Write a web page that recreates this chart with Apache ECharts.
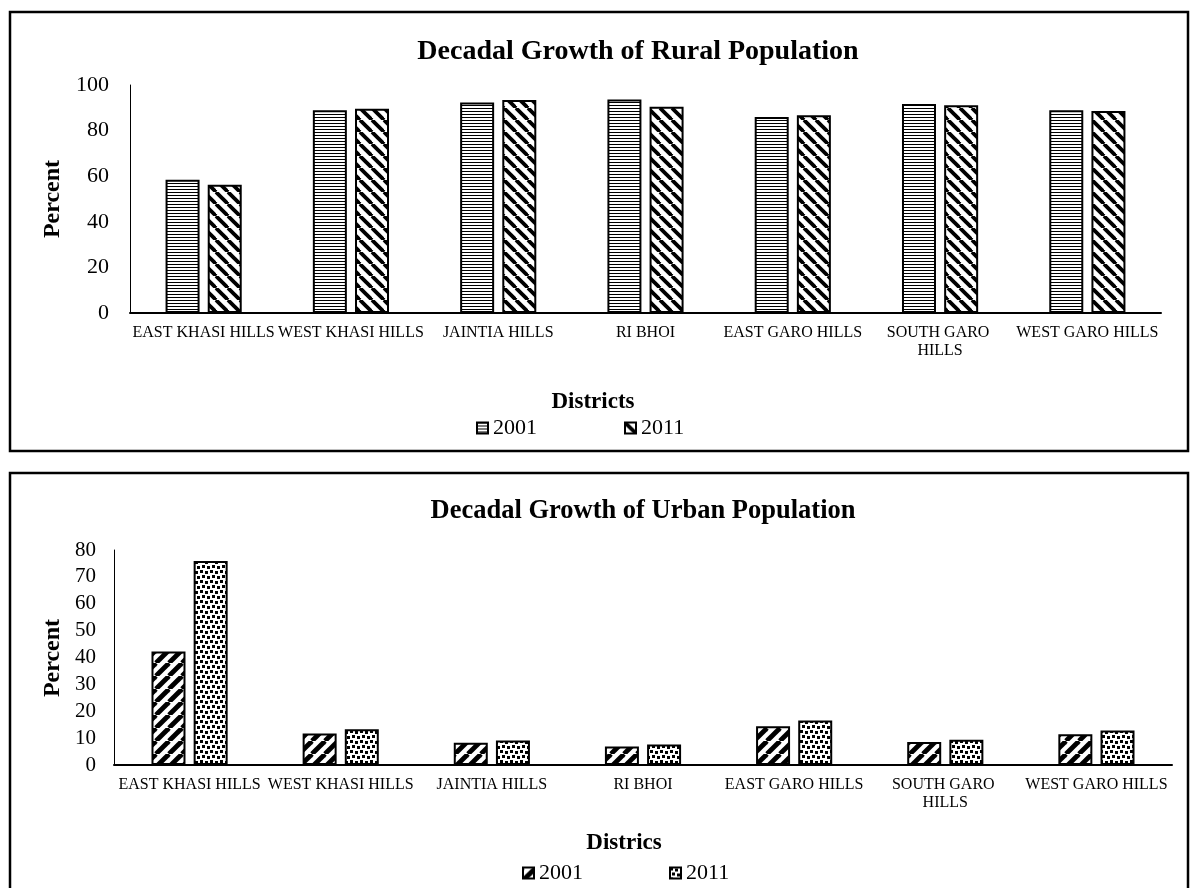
<!DOCTYPE html>
<html>
<head>
<meta charset="utf-8">
<script src="https://cdn.jsdelivr.net/npm/echarts@6/dist/echarts.min.js"></script>
<style>
  html, body { margin: 0; padding: 0; background: #fff; }
  #chart { width: 1190px; height: 888px; }
</style>
</head>
<body>
<div id="chart"></div>
<script>
// District names along the x axis of both panels
const districts = [
  'EAST KHASI HILLS', 'WEST KHASI HILLS', 'JAINTIA HILLS', 'RI BHOI',
  'EAST GARO HILLS', 'SOUTH GARO HILLS', 'WEST GARO HILLS'
];
const years = ['2001', '2011'];

// Rural population share (percent)
const rural2001 = [58.4, 88.9, 92.3, 93.6, 86.0, 91.7, 88.9];
const rural2011 = [56.2, 89.6, 93.4, 90.5, 86.7, 91.1, 88.6];

// Urban population (percent)
const urban2001 = [42.2, 11.7, 8.3, 6.9, 14.4, 8.6, 11.4];
const urban2011 = [75.9, 13.3, 9.1, 7.6, 16.6, 9.4, 12.8];

// Value-axis ranges
const ruralAxis = { min: 0, max: 100, interval: 20 };
const urbanAxis = { min: 0, max: 80, interval: 10 };

const serif = "'Liberation Serif', 'Times New Roman', serif";

// Monochrome hatch fills built on small canvas tiles
function makeTile(w, h, draw) {
  const c = document.createElement('canvas');
  c.width = w; c.height = h;
  const g = c.getContext('2d');
  g.fillStyle = '#fff';
  g.fillRect(0, 0, w, h);
  g.fillStyle = '#000';
  g.strokeStyle = '#000';
  draw(g, w, h);
  return { image: c, repeat: 'repeat' };
}
const horizontalLines = makeTile(4, 3, g => { g.fillRect(0, 0, 4, 1); });
const backDiagonal = makeTile(12, 12, g => {
  g.lineWidth = 3.8;
  for (const o of [-12, 0, 12]) { g.beginPath(); g.moveTo(o, 0); g.lineTo(o + 12, 12); g.stroke(); }
});
const forwardDiagonal = makeTile(13, 13, g => {
  g.lineWidth = 4.8;
  for (const o of [-13, 0, 13]) { g.beginPath(); g.moveTo(o, 13); g.lineTo(o + 13, 0); g.stroke(); }
});
const dots = makeTile(10, 10, g => {
  [[0, 0], [5, 1], [2, 5], [7, 6]].forEach(([x, y]) => g.fillRect(x, y, 3, 3));
});

const chart = echarts.init(document.getElementById('chart'), null, { renderer: 'canvas' });

function catAxis(gridIndex, width) {
  return {
    type: 'category', gridIndex, data: districts,
    axisLine: { lineStyle: { color: '#000', width: 2 } },
    axisTick: { show: false },
    axisLabel: {
      interval: 0, color: '#000', fontFamily: serif, fontSize: 16,
      margin: 11, lineHeight: 18, width, overflow: 'break'
    }
  };
}
function valAxis(gridIndex, range, fontSize, margin) {
  return {
    type: 'value', gridIndex, ...range,
    axisLine: { show: true, lineStyle: { color: '#000', width: 1 } },
    axisTick: { show: false },
    splitLine: { show: false },
    axisLabel: { color: '#000', fontFamily: serif, fontSize, margin }
  };
}
function bar(name, axisIndex, data, fill) {
  return {
    type: 'bar', name, xAxisIndex: axisIndex, yAxisIndex: axisIndex, data,
    barWidth: 34, barGap: '24%',
    itemStyle: { color: fill, borderColor: '#000', borderWidth: 2 },
    emphasis: { disabled: true }
  };
}
function label(text, x, y, size, rotate) {
  return {
    type: 'text', x, y, rotation: rotate ? Math.PI / 2 : 0, silent: true,
    style: {
      text, fill: '#000', fontFamily: serif, fontSize: size, fontWeight: 'bold',
      align: 'center', verticalAlign: 'middle'
    }
  };
}
const legendBase = {
  orient: 'horizontal', icon: 'rect', itemWidth: 11, itemHeight: 11, padding: 0,
  selectedMode: false, formatter: n => n.split(' ')[1],
  textStyle: { color: '#000', fontFamily: serif, fontSize: 22 }
};

chart.setOption({
  animation: false,
  backgroundColor: '#fff',
  grid: [
    { left: 130, right: 29, top: 85, height: 228 },
    { left: 114, right: 18, top: 550, height: 215 }
  ],
  xAxis: [catAxis(0, 147), catAxis(1, 150)],
  yAxis: [valAxis(0, ruralAxis, 22, 21), valAxis(1, urbanAxis, 21, 18)],
  legend: [
    { ...legendBase, left: 476, top: 417, itemGap: 87,
      data: years.map(y => 'Rural ' + y) },
    { ...legendBase, left: 522, top: 862, itemGap: 86,
      data: years.map(y => 'Urban ' + y) }
  ],
  series: [
    bar('Rural ' + years[0], 0, rural2001, horizontalLines),
    bar('Rural ' + years[1], 0, rural2011, backDiagonal),
    bar('Urban ' + years[0], 1, urban2001, forwardDiagonal),
    bar('Urban ' + years[1], 1, urban2011, dots)
  ],
  graphic: [
    { type: 'rect', silent: true, shape: { x: 10, y: 12, width: 1178, height: 439 },
      style: { fill: null, stroke: '#000', lineWidth: 2.5 } },
    { type: 'rect', silent: true, shape: { x: 10, y: 473, width: 1178, height: 500 },
      style: { fill: null, stroke: '#000', lineWidth: 2.5 } },
    label('Decadal Growth of Rural Population', 638, 52, 28),
    label('Decadal Growth of Urban Population', 643, 511, 26.5),
    label('Percent', 53, 199, 24, true),
    label('Percent', 53, 658, 24, true),
    label('Districts', 593, 402, 23),
    label('Districs', 624, 843, 23)
  ]
});
</script>
</body>
</html>
